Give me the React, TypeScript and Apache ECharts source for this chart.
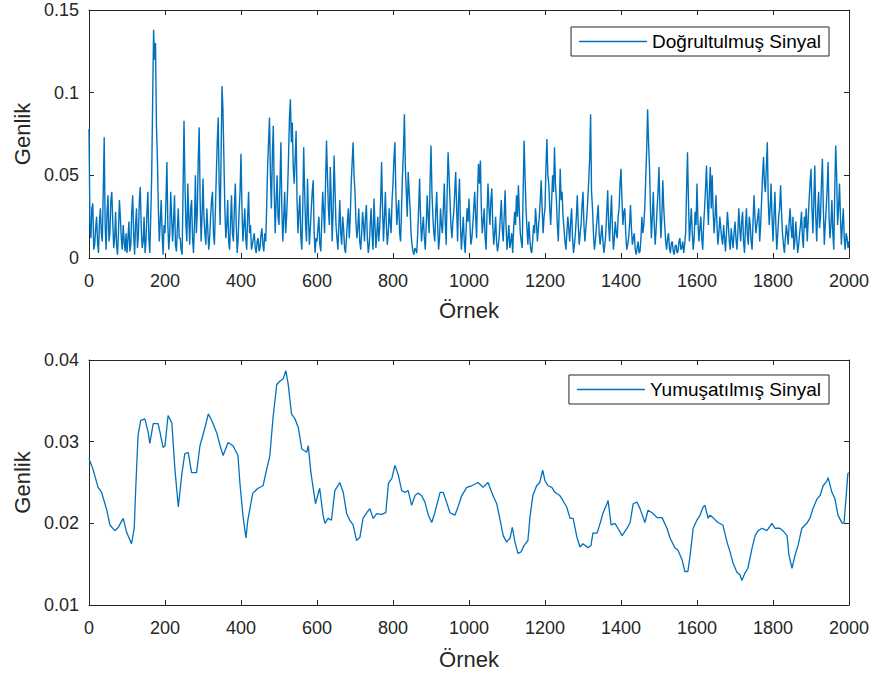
import React, { useEffect, useRef } from "react";
import * as echarts from "echarts";

// Rectified signal, one reading every 2.5 samples (values in units of 0.001)
const rectStep = 2.5;
const rectifiedMilli = [
  78, 20, 12, 30, 33, 5, 8, 18, 25, 10, 3, 22, 30, 15, 10, 40, 73, 20, 5, 28, 38, 10, 15, 35, 40, 22, 6, 12, 28, 8, 2, 15, 35, 25, 12, 5, 20, 10, 4, 15,
  3, 12, 22, 4, 8, 28, 38, 15, 2, 20, 30, 6, 14, 35, 43, 18, 6, 10, 25, 3, 10, 28, 40, 12, 3, 25, 50, 95, 138, 120, 130, 80, 60, 30, 10, 22, 35, 15, 2, 20,
  15, 35, 58, 20, 5, 15, 40, 25, 10, 22, 38, 8, 4, 18, 30, 12, 12, 5, 2, 40, 83, 45, 20, 10, 45, 25, 8, 30, 35, 12, 3, 20, 50, 15, 28, 60, 79, 35, 10, 25,
  48, 25, 15, 8, 30, 18, 5, 12, 25, 35, 40, 15, 8, 28, 50, 70, 85, 45, 20, 60, 104, 90, 60, 30, 12, 20, 35, 10, 5, 22, 38, 15, 10, 30, 45, 20, 3, 12, 28, 40,
  63, 30, 10, 20, 30, 12, 5, 25, 40, 15, 20, 5, 8, 12, 15, 6, 3, 10, 12, 4, 6, 14, 18, 8, 4, 15, 10, 30, 55, 70, 85, 50, 30, 62, 80, 40, 15, 35, 50, 25,
  20, 45, 70, 30, 10, 25, 40, 15, 25, 40, 60, 85, 96, 70, 82, 55, 45, 60, 77, 35, 15, 28, 38, 12, 5, 30, 67, 40, 20, 10, 48, 25, 8, 18, 30, 40, 47, 15, 3, 12,
  10, 18, 25, 8, 4, 22, 40, 28, 15, 45, 71, 50, 30, 20, 55, 35, 10, 30, 62, 40, 20, 12, 5, 20, 35, 15, 8, 25, 18, 6, 3, 12, 22, 30, 12, 25, 45, 58, 70, 50,
  40, 22, 12, 18, 30, 10, 5, 15, 28, 20, 10, 25, 32, 12, 3, 8, 20, 30, 14, 5, 36, 20, 6, 15, 25, 10, 18, 35, 58, 30, 10, 25, 40, 20, 8, 15, 30, 22, 15, 35,
  45, 60, 70, 40, 20, 28, 35, 15, 10, 30, 50, 65, 87, 55, 40, 25, 52, 40, 30, 15, 8, 4, 2, 6, 5, 3, 15, 30, 48, 25, 10, 18, 25, 12, 5, 20, 38, 25, 15, 45,
  68, 40, 25, 15, 10, 28, 40, 20, 5, 12, 30, 20, 15, 30, 45, 22, 8, 40, 64, 50, 35, 20, 12, 22, 28, 40, 52, 30, 10, 35, 48, 20, 5, 15, 25, 10, 3, 18, 30, 22,
  36, 20, 8, 12, 20, 30, 40, 25, 12, 40, 57, 45, 59, 30, 15, 22, 30, 12, 5, 28, 45, 30, 20, 35, 42, 20, 8, 15, 25, 10, 4, 8, 15, 25, 35, 18, 10, 25, 41, 20,
  5, 12, 20, 6, 10, 15, 3, 18, 28, 20, 38, 25, 44, 28, 15, 10, 6, 40, 71, 50, 30, 18, 8, 22, 12, 5, 3, 10, 20, 15, 30, 22, 10, 18, 25, 35, 47, 30, 15, 25,
  30, 55, 72, 50, 45, 30, 20, 35, 50, 40, 67, 45, 35, 20, 10, 30, 54, 35, 40, 25, 18, 10, 5, 15, 25, 18, 10, 22, 30, 12, 3, 8, 15, 25, 38, 20, 8, 15, 20, 32,
  40, 20, 10, 18, 25, 35, 46, 60, 87, 40, 30, 15, 5, 10, 18, 25, 32, 15, 8, 14, 20, 10, 3, 8, 15, 28, 41, 20, 10, 25, 38, 18, 5, 12, 22, 15, 12, 25, 30, 45,
  54, 35, 20, 28, 30, 15, 5, 8, 12, 20, 32, 18, 8, 12, 15, 5, 2, 6, 10, 3, 4, 12, 25, 15, 20, 30, 48, 65, 90, 70, 55, 30, 12, 25, 40, 20, 8, 18, 30, 40,
  55, 30, 12, 25, 47, 30, 20, 10, 5, 12, 15, 6, 3, 9, 10, 4, 2, 7, 8, 3, 4, 10, 12, 5, 6, 10, 3, 8, 15, 40, 64, 35, 10, 20, 30, 15, 5, 12, 28, 20,
  45, 22, 10, 18, 25, 12, 5, 20, 30, 42, 56, 35, 20, 40, 55, 30, 50, 28, 15, 25, 38, 20, 8, 15, 25, 18, 12, 8, 20, 12, 4, 15, 28, 20, 10, 5, 18, 12, 6, 15,
  22, 12, 5, 15, 30, 18, 10, 22, 28, 10, 3, 18, 30, 14, 8, 25, 20, 10, 5, 22, 38, 25, 15, 20, 25, 30, 10, 20, 35, 50, 61, 45, 40, 55, 70, 35, 20, 30, 45, 25,
  10, 25, 40, 20, 5, 15, 25, 30, 44, 28, 15, 8, 3, 12, 20, 15, 8, 22, 30, 18, 12, 25, 5, 10, 22, 12, 3, 8, 15, 20, 28, 12, 6, 25, 18, 30, 10, 22, 35, 45,
  54, 30, 15, 35, 56, 25, 10, 28, 40, 18, 25, 45, 60, 30, 8, 20, 30, 42, 58, 25, 12, 20, 35, 15, 5, 40, 68, 50, 20, 30, 45, 25, 8, 20, 30, 12, 5, 15, 12, 6,
  10,
];

// Smoothed signal readings: [sample, value in units of 0.0001]
const smoothedPoints: [number, number][] = [
  [0, 279], [10, 267], [24, 244], [33, 238], [47, 216], [55, 198], [68, 191], [77, 195],
  [90, 206], [99, 189], [112, 175], [119, 194], [123, 243], [129, 307], [136, 326],
  [147, 328], [156, 311], [160, 298], [169, 322], [182, 322], [195, 293], [200, 295],
  [208, 332], [218, 323], [226, 267], [235, 220], [244, 259], [252, 285], [261, 287],
  [270, 262], [283, 262], [292, 295], [305, 317], [314, 334], [323, 326], [336, 311],
  [345, 295], [353, 283], [366, 299], [379, 295], [392, 283], [397, 250], [405, 210],
  [413, 182], [418, 204], [431, 237], [445, 243], [458, 246], [468, 267], [476, 283],
  [484, 328], [494, 370], [502, 374], [511, 377], [518, 387], [524, 371], [533, 334],
  [542, 328], [551, 317], [560, 291], [573, 287], [577, 295], [584, 262], [590, 243],
  [596, 224], [607, 243], [616, 210], [621, 200], [629, 206], [638, 204], [647, 240],
  [660, 250], [669, 238], [678, 212], [686, 204], [695, 198], [704, 179], [713, 183],
  [721, 206], [731, 213], [739, 218], [748, 206], [757, 212], [770, 211], [781, 213],
  [788, 249], [797, 255], [805, 271], [814, 259], [823, 240], [832, 238], [840, 240],
  [849, 222], [858, 234], [866, 237], [875, 234], [884, 226], [893, 210], [902, 201],
  [910, 213], [924, 238], [932, 238], [941, 226], [950, 213], [963, 210], [971, 220],
  [981, 234], [994, 244], [1007, 246], [1024, 250], [1037, 244], [1050, 250], [1063, 234],
  [1073, 224], [1081, 206], [1090, 185], [1099, 177], [1108, 182], [1114, 195], [1121, 177],
  [1129, 163], [1137, 165], [1145, 173], [1155, 179], [1160, 206], [1168, 234], [1178, 246],
  [1186, 250], [1194, 265], [1200, 252], [1208, 246], [1218, 244], [1226, 238], [1239, 234],
  [1247, 228], [1257, 220], [1266, 206], [1274, 206], [1284, 183], [1292, 171], [1300, 175],
  [1313, 170], [1321, 173], [1326, 188], [1337, 188], [1345, 200], [1353, 213], [1363, 224],
  [1366, 228], [1374, 198], [1384, 200], [1392, 194], [1403, 185], [1416, 194], [1424, 201],
  [1432, 224], [1442, 226], [1450, 218], [1463, 201], [1471, 216], [1482, 213], [1495, 207],
  [1508, 207], [1521, 194], [1529, 182], [1542, 170], [1550, 167], [1561, 155], [1568, 141],
  [1576, 141], [1582, 161], [1590, 194], [1600, 204], [1608, 210], [1616, 220], [1621, 222],
  [1629, 206], [1634, 210], [1642, 207], [1655, 201], [1668, 198], [1679, 177], [1687, 165],
  [1695, 151], [1705, 140], [1713, 137], [1718, 130], [1726, 139], [1734, 145], [1745, 170],
  [1753, 185], [1761, 191], [1771, 194], [1784, 191], [1797, 200], [1805, 194], [1818, 194],
  [1826, 191], [1837, 185], [1842, 161], [1850, 145], [1858, 161], [1866, 173], [1876, 194],
  [1889, 200], [1897, 206], [1905, 218], [1916, 230], [1924, 234], [1932, 246], [1942, 252],
  [1945, 256], [1955, 238], [1963, 230], [1971, 210], [1982, 200], [1987, 201], [1992, 230],
  [1997, 261], [2000, 262],
];

const xRange = { min: 0, max: 2000, interval: 200 };
const topY = { min: 0, max: 0.15, interval: 0.05 };
const bottomY = { min: 0.01, max: 0.04, interval: 0.01 };
const xName = "Örnek";
const yName = "Genlik";
const topLegend = "Doğrultulmuş Sinyal";
const bottomLegend = "Yumuşatılmış Sinyal";

const AXIS = "#262626";
const FONT = "'Liberation Sans', Arial, Helvetica, sans-serif";
const LINE = "#0072BD";

function makeXAxes(gridIndex: number, nameGap: number) {
  const line = { show: true, onZero: false, lineStyle: { color: AXIS, width: 1 } };
  const tick = { show: true, inside: true, length: 5, lineStyle: { color: AXIS, width: 1 } };
  return [
    {
      type: "value", gridIndex, ...xRange, position: "bottom",
      name: xName, nameLocation: "middle", nameGap,
      nameTextStyle: { fontSize: 22, color: AXIS, fontFamily: FONT },
      axisLine: line, axisTick: tick,
      axisLabel: { color: AXIS, fontSize: 18, fontFamily: FONT, margin: 14, formatter: (v: number) => String(v) },
      splitLine: { show: false },
    },
    {
      type: "value", gridIndex, ...xRange, position: "top",
      axisLine: line, axisTick: tick, axisLabel: { show: false }, splitLine: { show: false },
    },
  ];
}

function makeYAxes(gridIndex: number, range: any) {
  const line = { show: true, onZero: false, lineStyle: { color: AXIS, width: 1 } };
  const tick = { show: true, inside: true, length: 5, lineStyle: { color: AXIS, width: 1 } };
  return [
    {
      type: "value", gridIndex, ...range, position: "left",
      name: yName, nameLocation: "middle", nameGap: 56,
      nameTextStyle: { fontSize: 22, color: AXIS, fontFamily: FONT },
      axisLine: line, axisTick: tick,
      axisLabel: { color: AXIS, fontSize: 18, fontFamily: FONT, margin: 10 },
      splitLine: { show: false },
    },
    {
      type: "value", gridIndex, ...range, position: "right",
      axisLine: line, axisTick: tick, axisLabel: { show: false }, splitLine: { show: false },
    },
  ];
}

function legendFor(name: string, top: number) {
  return {
    data: [{ name, icon: "rect" }],
    right: 49,
    top,
    orient: "horizontal",
    padding: [5, 8, 5, 8],
    borderColor: AXIS,
    borderWidth: 1,
    borderRadius: 0,
    backgroundColor: "#fff",
    itemWidth: 68,
    itemHeight: 1.5,
    itemGap: 4,
    textStyle: { fontSize: 19, color: "#000", fontFamily: FONT, lineHeight: 19 },
  };
}

export default function App() {
  const ref = useRef<HTMLDivElement>(null);
  useEffect(() => {
    document.body.style.margin = "0";
    if (!ref.current) return;
    const chart = echarts.init(ref.current, undefined, { renderer: "svg" });
    const topData = rectifiedMilli.map((v, i) => [i * rectStep, v / 1000]);
    const bottomData = smoothedPoints.map(([x, v]) => [x, v / 10000]);
    chart.setOption({
      animation: false,
      backgroundColor: "#fff",
      grid: [
        { left: 89, top: 10, width: 760, height: 248, containLabel: false },
        { left: 89, top: 360, width: 760, height: 245, containLabel: false },
      ],
      xAxis: [...makeXAxes(0, 41), ...makeXAxes(1, 43)],
      yAxis: [...makeYAxes(0, topY), ...makeYAxes(1, bottomY)],
      legend: [legendFor(topLegend, 27), legendFor(bottomLegend, 375)],
      series: [
        {
          name: topLegend, type: "line", xAxisIndex: 0, yAxisIndex: 0,
          data: topData, symbol: "none", showSymbol: false,
          lineStyle: { color: LINE, width: 1.4 }, itemStyle: { color: LINE },
        },
        {
          name: bottomLegend, type: "line", xAxisIndex: 2, yAxisIndex: 2,
          data: bottomData, symbol: "none", showSymbol: false,
          lineStyle: { color: LINE, width: 1.3 }, itemStyle: { color: LINE },
        },
      ],
    });
    return () => chart.dispose();
  }, []);
  return <div ref={ref} style={{ width: 878, height: 679 }} />;
}
